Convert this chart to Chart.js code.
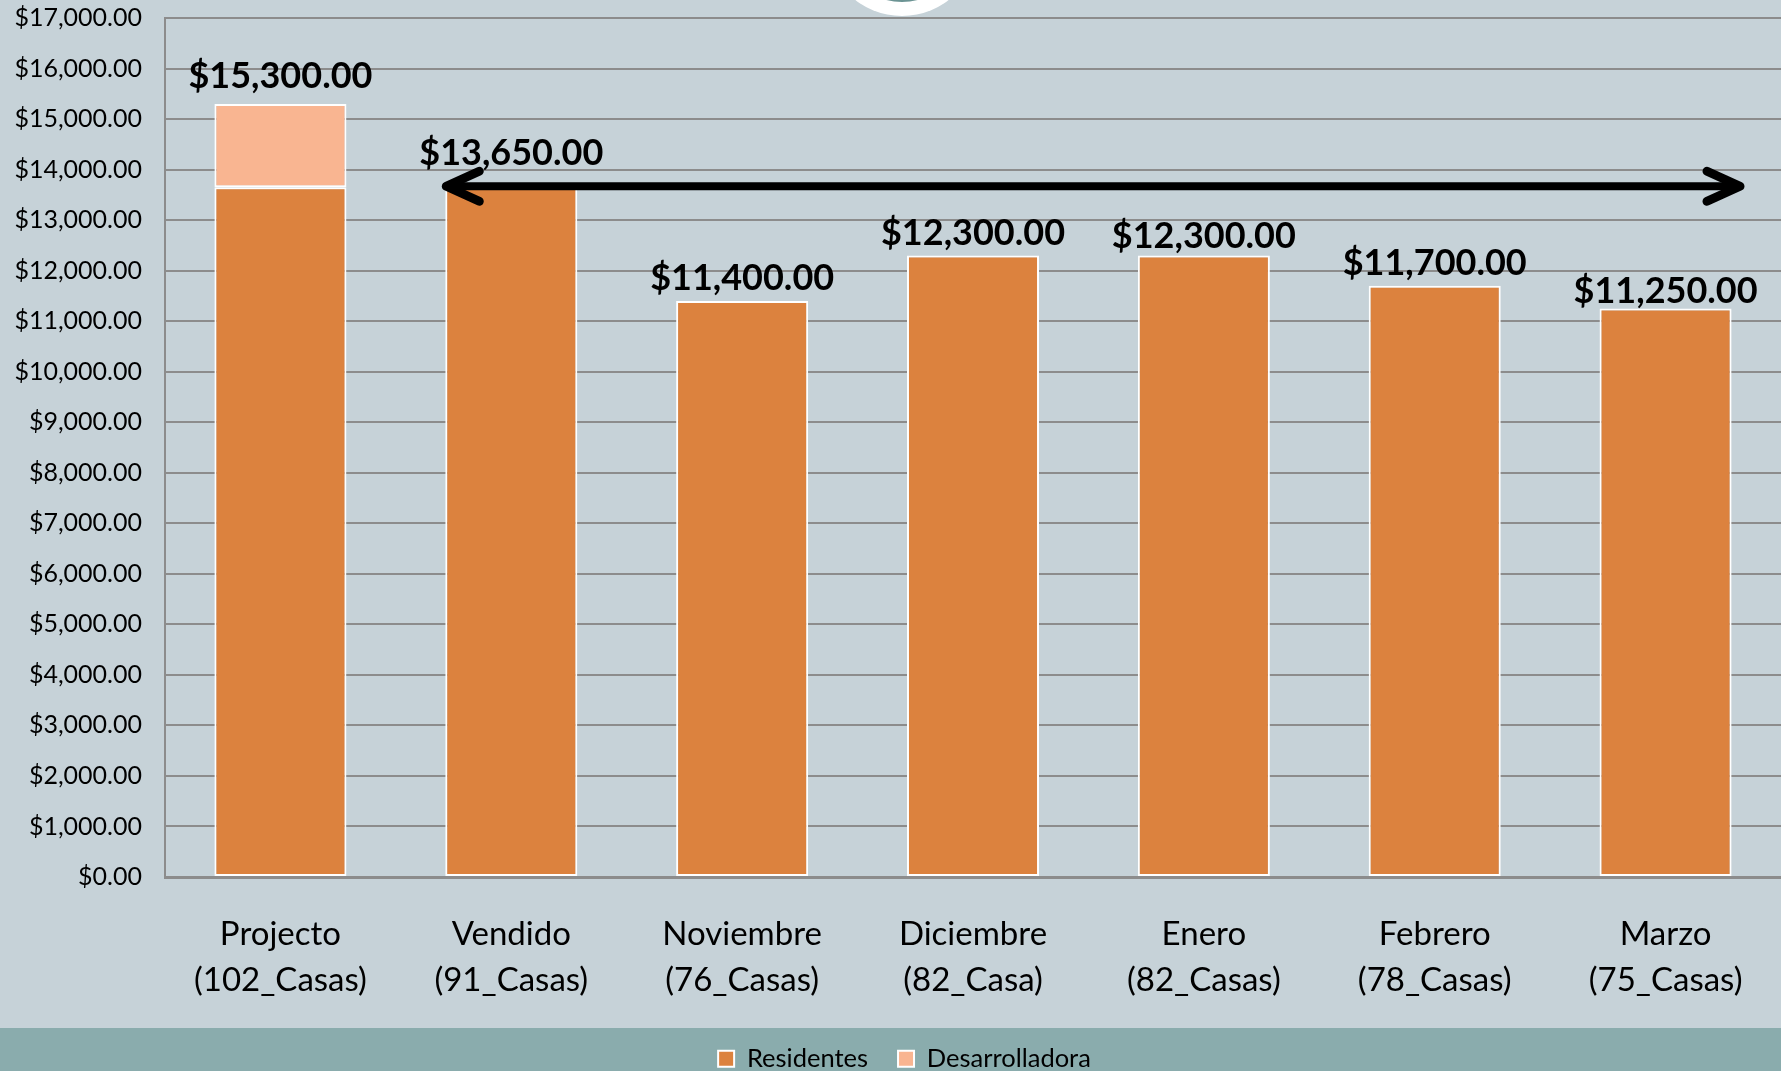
<!DOCTYPE html>
<html>
<head>
<meta charset="utf-8">
<script src="https://cdn.jsdelivr.net/npm/chart.js@4"></script>
<style>
  html, body { margin: 0; padding: 0; background: #c6d2d8; }
  canvas { display: block; }
</style>
</head>
<body>
<canvas id="costChart" width="1781" height="1071"></canvas>
<script>
const categories = [
    ['Projecto', '(102_Casas)'],
    ['Vendido', '(91_Casas)'],
    ['Noviembre', '(76_Casas)'],
    ['Diciembre', '(82_Casa)'],
    ['Enero', '(82_Casas)'],
    ['Febrero', '(78_Casas)'],
    ['Marzo', '(75_Casas)']
];
const residentes = [13650, 13650, 11400, 12300, 12300, 11700, 11250];
const desarrolladora = [1650, null, null, null, null, null, null];
const yMin = 0;
const yMax = 17000;
const yStep = 1000;
const arrowIndex = 1; // arrow starts at the "Vendido" bar and runs at its level

// small vertical nudges for the total labels (px), as placed in the original
const labelNudge = [16, 22, 11, 10, 7, 11, 6];

const BG = '#c6d2d8';
const BAND = '#8aacad';
const GRID = '#8c8c8c';
const FONT = 'Lato, "Open Sans", sans-serif';

function money(v) {
    return '$' + v.toLocaleString('en-US', { minimumFractionDigits: 2, maximumFractionDigits: 2 });
}

const backgroundPlugin = {
    id: 'background',
    afterLayout(chart) {
        // the original legend sits a little right of centre
        chart.legend.left += 28;
    },
    beforeDraw(chart) {
        const ctx = chart.ctx;
        ctx.save();
        ctx.fillStyle = BG;
        ctx.fillRect(0, 0, chart.width, chart.height);
        ctx.fillStyle = BAND;
        ctx.fillRect(0, 1028, chart.width, chart.height - 1028);
        // logo ring peeking in at the top
        ctx.beginPath();
        ctx.arc(902, -60, 76, 0, Math.PI * 2);
        ctx.fillStyle = '#ffffff';
        ctx.fill();
        ctx.beginPath();
        ctx.arc(902, -60, 62, 0, Math.PI * 2);
        ctx.fillStyle = '#6c9494';
        ctx.fill();
        ctx.restore();
    }
};

const totalsPlugin = {
    id: 'totals',
    afterDatasetsDraw(chart) {
        const ctx = chart.ctx;
        const x = chart.scales.x;
        const y = chart.scales.y;
        ctx.save();
        ctx.font = 'bold 36px ' + FONT;
        ctx.fillStyle = '#000';
        ctx.textAlign = 'center';
        ctx.textBaseline = 'alphabetic';
        residentes.forEach((r, i) => {
            const total = r + (desarrolladora[i] || 0);
            ctx.fillText(money(total), x.getPixelForValue(i), y.getPixelForValue(total) - labelNudge[i]);
        });
        ctx.restore();
    }
};

const arrowPlugin = {
    id: 'arrow',
    afterDatasetsDraw(chart) {
        const ctx = chart.ctx;
        const bar = chart.getDatasetMeta(0).data[arrowIndex];
        const yPix = chart.scales.y.getPixelForValue(residentes[arrowIndex]) - 1;
        const x0 = bar.x - bar.width / 2 + 1;
        const x1 = chart.chartArea.right - 41;
        ctx.save();
        ctx.strokeStyle = '#000';
        ctx.lineCap = 'round';
        ctx.lineJoin = 'round';
        ctx.lineWidth = 8;
        ctx.beginPath();
        ctx.moveTo(x0 + 4, yPix);
        ctx.lineTo(x1 - 4, yPix);
        ctx.stroke();
        ctx.lineWidth = 9;
        ctx.beginPath();
        ctx.moveTo(x0 + 33, yPix - 15);
        ctx.lineTo(x0, yPix);
        ctx.lineTo(x0 + 33, yPix + 15);
        ctx.moveTo(x1 - 33, yPix - 15);
        ctx.lineTo(x1, yPix);
        ctx.lineTo(x1 - 33, yPix + 15);
        ctx.stroke();
        ctx.restore();
    }
};

new Chart(document.getElementById('costChart'), {
    type: 'bar',
    data: {
        labels: categories,
        datasets: [{
            label: 'Residentes',
            data: residentes,
            backgroundColor: '#dc823e',
            borderColor: '#ffffff',
            borderWidth: 2,
            borderSkipped: false,
            barPercentage: 0.572,
            categoryPercentage: 1
        }, {
            label: 'Desarrolladora',
            data: desarrolladora,
            backgroundColor: '#f9b591',
            borderColor: '#ffffff',
            borderWidth: 2,
            borderSkipped: false,
            barPercentage: 0.572,
            categoryPercentage: 1
        }]
    },
    options: {
        responsive: false,
        animation: false,
        devicePixelRatio: 1,
        layout: {
            padding: { top: 18, right: 0, bottom: 0, left: 0 }
        },
        plugins: {
            legend: {
                position: 'bottom',
                maxHeight: 55,
                labels: {
                    boxWidth: 16,
                    boxHeight: 16,
                    padding: 30,
                    color: '#000',
                    font: { family: FONT, size: 25.5 }
                }
            },
            tooltip: { enabled: false }
        },
        scales: {
            x: {
                stacked: true,
                grid: { display: false, drawTicks: false },
                border: { display: true, color: GRID, width: 3 },
                ticks: {
                    color: '#000',
                    padding: 34,
                    maxRotation: 0,
                    font: { family: FONT, size: 33, lineHeight: 1.4 }
                },
                afterFit(scale) {
                    scale.height = 139;
                }
            },
            y: {
                stacked: true,
                min: yMin,
                max: yMax,
                grid: { color: GRID, lineWidth: 2, drawTicks: true, tickLength: 23, tickColor: 'rgba(0,0,0,0)' },
                border: { display: true, color: GRID, width: 2 },
                ticks: {
                    stepSize: yStep,
                    padding: 0,
                    color: '#000',
                    font: { family: FONT, size: 25 },
                    callback: v => money(v)
                },
                afterFit(scale) {
                    scale.width = 165;
                }
            }
        }
    },
    plugins: [backgroundPlugin, arrowPlugin, totalsPlugin]
});
</script>
</body>
</html>
